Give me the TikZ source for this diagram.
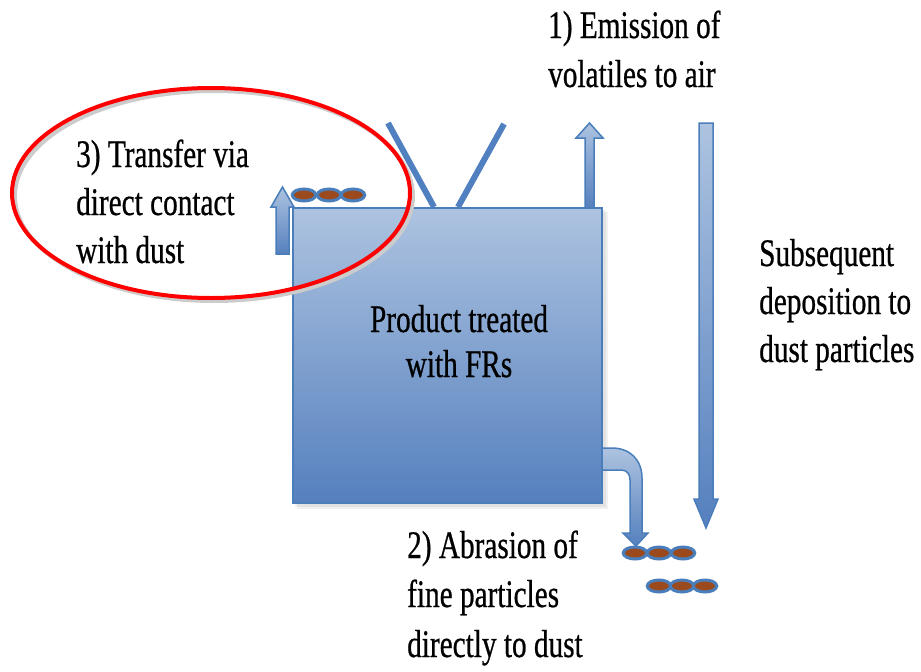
\documentclass[tikz,border=0pt]{standalone}
\usepackage{fontspec}
\usetikzlibrary{shapes.geometric}
\newfontfamily\tnr[FakeStretch=0.75,FakeBold=0.6]{Liberation Serif}
\definecolor{bord}{HTML}{4A7EBB}
\definecolor{ant}{HTML}{5080BF}
\definecolor{lightb}{HTML}{ADC3E0}
\definecolor{darkb}{HTML}{5580BE}
\definecolor{dustc}{HTML}{9A4A1C}
\begin{document}
\begin{tikzpicture}[x=1pt,y=-1pt,
  lbl/.style={font=\tnr\fontsize{39}{47}\selectfont, inner sep=0pt, anchor=base west},
  blockarrow/.style={draw=bord, line width=1.5pt, top color=lightb, bottom color=darkb, line join=miter},
  dust/.style={ellipse, draw=bord, line width=3pt, fill=dustc, minimum width=23.5pt, minimum height=12pt, inner sep=0pt},
  antenna/.style={draw=ant, line width=6pt},
  softshadow/.style={fill=black, opacity=0.06, draw=none}]
\useasboundingbox (0,0) rectangle (921,672);

% soft shadows
\fill[softshadow] (297,212) rectangle (608,509);
\fill[softshadow] (295,210) rectangle (606,507);

% block arrows
\draw[blockarrow] (585,208) -- (585,138) -- (576,138) -- (589.5,123) -- (603,138) -- (594,138) -- (594,208) -- cycle;
\draw[blockarrow] (276,254) -- (276,207) -- (271,207) -- (282.5,187) -- (294,207) -- (289,207) -- (289,254) -- cycle;
\draw[blockarrow] (699,123) -- (713,123) -- (713,499) -- (718,499) -- (706,528) -- (694,499) -- (699,499) -- cycle;
\draw[blockarrow] (598,448) -- (612,448) .. controls (630,448) and (642,460) .. (642,478) -- (642,533) -- (648,533) -- (636,546) -- (623,533) -- (630,533) -- (630,480) .. controls (630,474) and (627,470) .. (621,470) -- (598,470) -- cycle;

% product box
\node[draw=bord, line width=1.5pt, top color=lightb, bottom color=darkb, minimum width=309pt, minimum height=295pt, inner sep=0pt] (box) at (447.5,355.5) {};

% antennas
\draw[antenna] (388,123) -- (434,207);
\draw[antenna] (504,124) -- (458,207);

% dust particles
\node[dust] (d1) at (304,195) {};
\node[dust] (d2) at (329,195) {};
\node[dust] (d3) at (353,195) {};
\node[dust] (d4) at (635,553) {};
\node[dust] (d5) at (659,553) {};
\node[dust] (d6) at (683,553) {};
\node[dust] (d7) at (659,586) {};
\node[dust] (d8) at (682,586) {};
\node[dust] (d9) at (705,586) {};

% red ellipse with shadow
\draw[gray!40, line width=4pt] (214,196) ellipse [x radius=199, y radius=105];
\draw[red, line width=4pt] (211,193) ellipse [x radius=199, y radius=105];

% texts
\node[lbl] (t1a) at (548,38) {1) Emission of};
\node[lbl] (t1b) at (548,87) {volatiles to air};
\node[lbl] (t3a) at (76,167) {3) Transfer via};
\node[lbl] (t3b) at (76,215) {direct contact};
\node[lbl] (t3c) at (76,263) {with dust};
\node[lbl] (tsa) at (759,266) {Subsequent};
\node[lbl] (tsb) at (759,314) {deposition to};
\node[lbl] (tsc) at (759,362) {dust particles};
\node[lbl, anchor=base] (tpa) at (459,332) {Product treated};
\node[lbl, anchor=base] (tpb) at (459,377) {with FRs};
\node[lbl] (t2a) at (407,558) {2) Abrasion of};
\node[lbl] (t2b) at (407,607) {fine particles};
\node[lbl] (t2c) at (407,657) {directly to dust};
\end{tikzpicture}
\end{document}
